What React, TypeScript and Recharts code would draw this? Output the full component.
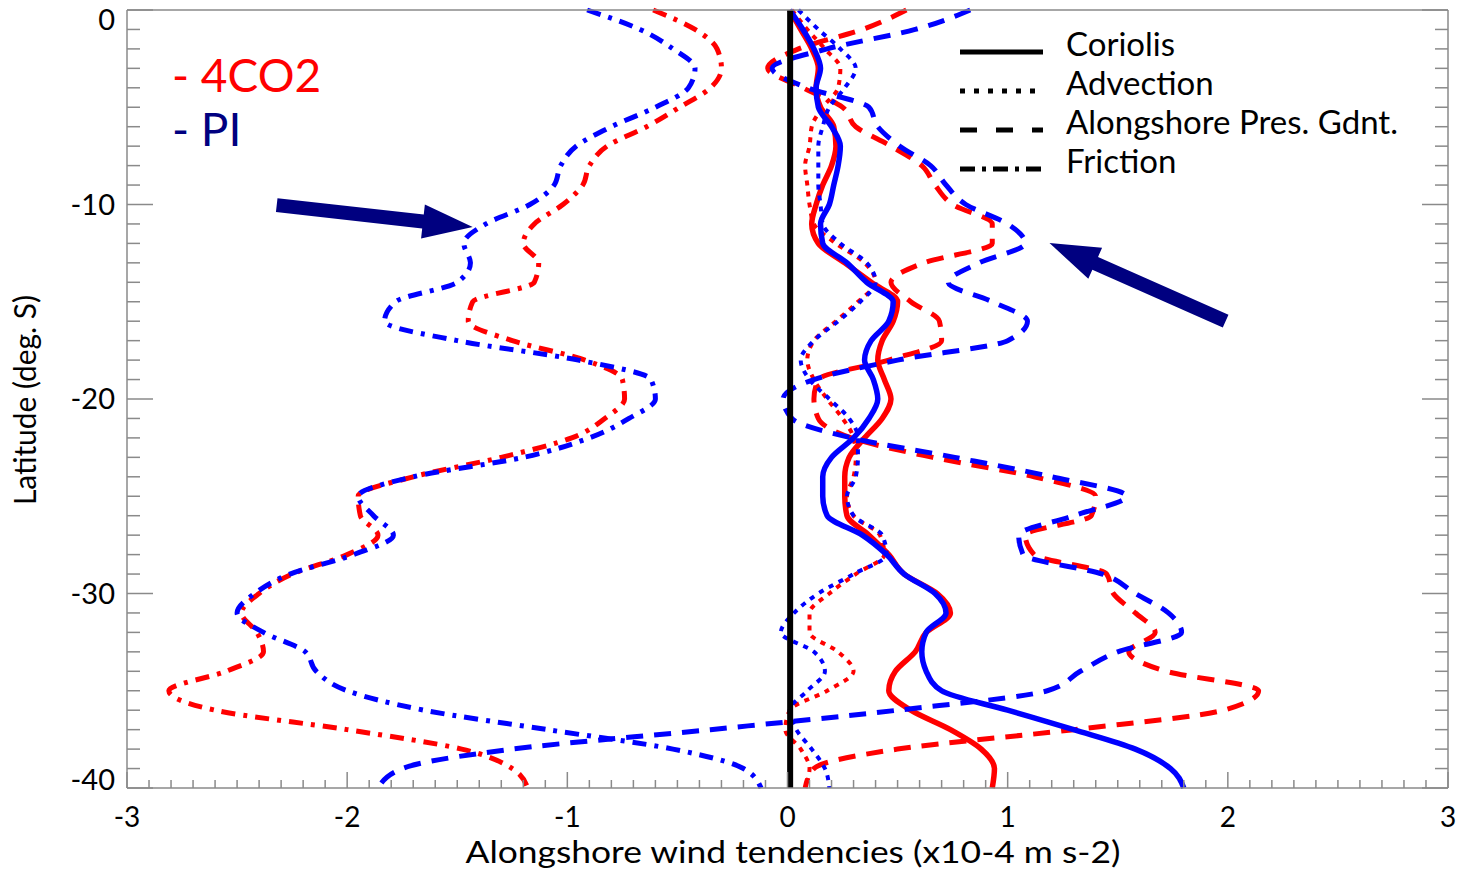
import React from 'react';
import { LineChart, Line, XAxis, YAxis, ReferenceLine } from 'recharts';

// latitude levels (deg), 0 at the top down to 40S
const LAT = [0, -1, -2, -3, -4, -5, -6, -7, -8, -9, -10, -11, -12, -13, -14, -15, -16, -17, -18, -19, -20,
  -21, -22, -23, -24, -25, -26, -27, -28, -29, -30, -31, -32, -33, -34, -35, -36, -37, -38, -39, -40];

// alongshore wind tendencies, x10-4 m s-2
const CORIOLIS_4CO2 = [0.01, 0.06, 0.11, 0.14, 0.13, 0.15, 0.21, 0.22, 0.20, 0.16, 0.13, 0.11, 0.14, 0.26, 0.38, 0.50, 0.48, 0.43, 0.41, 0.44, 0.47,
  0.43, 0.35, 0.28, 0.26, 0.26, 0.27, 0.37, 0.46, 0.53, 0.68, 0.74, 0.63, 0.58, 0.49, 0.46, 0.56, 0.74, 0.88, 0.94, 0.93];
const CORIOLIS_PI = [0.01, 0.07, 0.12, 0.15, 0.13, 0.14, 0.20, 0.24, 0.23, 0.21, 0.19, 0.15, 0.16, 0.27, 0.36, 0.48, 0.46, 0.38, 0.35, 0.39, 0.41,
  0.37, 0.30, 0.20, 0.16, 0.16, 0.18, 0.34, 0.45, 0.53, 0.67, 0.72, 0.63, 0.61, 0.63, 0.70, 1.00, 1.30, 1.58, 1.74, 1.80];
const ADVECTION_4CO2 = [0.02, 0.09, 0.17, 0.24, 0.23, 0.16, 0.11, 0.10, 0.08, 0.09, 0.10, 0.12, 0.22, 0.35, 0.40, 0.32, 0.22, 0.12, 0.09, 0.12, 0.18,
  0.25, 0.30, 0.31, 0.30, 0.27, 0.30, 0.42, 0.44, 0.31, 0.19, 0.10, 0.10, 0.23, 0.30, 0.18, 0.01, -0.01, 0.06, 0.10, 0.08];
const ADVECTION_PI = [0.05, 0.14, 0.24, 0.31, 0.26, 0.19, 0.16, 0.14, 0.14, 0.14, 0.15, 0.16, 0.24, 0.36, 0.40, 0.33, 0.23, 0.12, 0.06, 0.10, 0.19,
  0.28, 0.32, 0.32, 0.31, 0.27, 0.30, 0.43, 0.45, 0.30, 0.14, 0.03, -0.03, 0.12, 0.17, 0.09, 0.01, 0.04, 0.11, 0.17, 0.19];
const PRESSURE_4CO2 = [0.54, 0.34, 0.05, -0.09, 0.07, 0.25, 0.31, 0.47, 0.61, 0.67, 0.75, 0.93, 0.93, 0.62, 0.47, 0.56, 0.69, 0.70, 0.46, 0.14, 0.12,
  0.14, 0.29, 0.66, 1.12, 1.40, 1.38, 1.08, 1.12, 1.45, 1.48, 1.58, 1.67, 1.55, 1.72, 2.14, 1.98, 1.30, 0.50, 0.12, 0.08];
const PRESSURE_PI = [0.83, 0.58, 0.18, -0.07, 0.09, 0.37, 0.41, 0.51, 0.65, 0.72, 0.81, 1.00, 1.08, 0.87, 0.73, 0.93, 1.09, 1.00, 0.50, 0.12, -0.02,
  0.02, 0.29, 0.76, 1.20, 1.54, 1.30, 1.05, 1.07, 1.43, 1.58, 1.73, 1.79, 1.50, 1.33, 1.18, 0.50, -0.35, -1.25, -1.75, -1.86];
const FRICTION_4CO2 = [-0.61, -0.42, -0.32, -0.30, -0.35, -0.49, -0.64, -0.82, -0.90, -0.93, -1.02, -1.15, -1.20, -1.13, -1.15, -1.43, -1.45, -1.25, -0.92, -0.75, -0.74,
  -0.83, -0.98, -1.30, -1.70, -1.95, -1.94, -1.86, -2.00, -2.25, -2.40, -2.48, -2.41, -2.38, -2.55, -2.81, -2.60, -2.00, -1.48, -1.25, -1.18];
const FRICTION_PI = [-0.91, -0.67, -0.52, -0.42, -0.45, -0.60, -0.80, -0.96, -1.03, -1.06, -1.17, -1.37, -1.47, -1.44, -1.50, -1.78, -1.83, -1.50, -0.95, -0.62, -0.60,
  -0.72, -0.90, -1.20, -1.70, -1.95, -1.88, -1.79, -1.97, -2.26, -2.42, -2.50, -2.38, -2.19, -2.14, -2.00, -1.65, -1.09, -0.52, -0.20, -0.12];

const X_TICKS = Array.from({ length: 61 }, (_, i) => (i - 30) / 10);
const Y_TICKS = LAT;

const LEGEND = ['Coriolis', 'Advection', 'Alongshore Pres. Gdnt.', 'Friction'];

const data = LAT.map((lat, i) => ({
  lat,
  cor4: CORIOLIS_4CO2[i],
  corPI: CORIOLIS_PI[i],
  adv4: ADVECTION_4CO2[i],
  advPI: ADVECTION_PI[i],
  prs4: PRESSURE_4CO2[i],
  prsPI: PRESSURE_PI[i],
  fri4: FRICTION_4CO2[i],
  friPI: FRICTION_PI[i],
}));

const RED = '#ff0000';
const BLUE = '#0000ff';
const NAVY = '#000080';
const FRAME = '#8a8a8a';
const FONT = 'Lato, sans-serif';

const DOT = '5 6';
const DASH = '17 11';
const DASHDOT = '14 8 4 8';

const series = [
  { key: 'cor4', color: RED, dash: undefined, width: 5.5 },
  { key: 'adv4', color: RED, dash: DOT, width: 4 },
  { key: 'prs4', color: RED, dash: DASH, width: 5 },
  { key: 'fri4', color: RED, dash: DASHDOT, width: 5 },
  { key: 'corPI', color: BLUE, dash: undefined, width: 5.5 },
  { key: 'advPI', color: BLUE, dash: DOT, width: 4 },
  { key: 'prsPI', color: BLUE, dash: DASH, width: 5 },
  { key: 'friPI', color: BLUE, dash: DASHDOT, width: 5 },
];

const isWhole = (v: number) => Math.abs(v - Math.round(v)) < 1e-6;

function BottomTick({ x, y, payload }: any) {
  const major = isWhole(payload.value);
  return (
    <g>
      <line x1={x} x2={x} y1={y} y2={y - (major ? 16 : 8)} stroke={FRAME} strokeWidth={1.5} />
      {major && (
        <text x={x} y={y + 39} textAnchor="middle" fontSize={28} fontFamily={FONT} fill="#000">
          {Math.round(payload.value)}
        </text>
      )}
    </g>
  );
}

function TopTick({ x, y, payload }: any) {
  const major = isWhole(payload.value);
  return <line x1={x} x2={x} y1={y} y2={y + (major ? 16 : 8)} stroke={FRAME} strokeWidth={1.5} />;
}

function LeftTick({ x, y, payload }: any) {
  const v = payload.value;
  const major = v % 10 === 0;
  const dy = v === 0 ? 10 : v === -40 ? -8 : 0;
  return (
    <g>
      <line x1={x} x2={x + (major ? 26 : 13)} y1={y} y2={y} stroke={FRAME} strokeWidth={1.5} />
      {major && (
        <text x={x - 12} y={y + dy + 10} textAnchor="end" fontSize={29} fontFamily={FONT} fill="#000">
          {v}
        </text>
      )}
    </g>
  );
}

function RightTick({ x, y, payload }: any) {
  const major = payload.value % 10 === 0;
  return <line x1={x} x2={x - (major ? 26 : 13)} y1={y} y2={y} stroke={FRAME} strokeWidth={1.5} />;
}

function Arrow({ x1, y1, x2, y2 }: any) {
  const dx = x2 - x1;
  const dy = y2 - y1;
  const len = Math.hypot(dx, dy) || 1;
  const ux = dx / len;
  const uy = dy / len;
  const nx = -uy;
  const ny = ux;
  const headL = 50;
  const headW = 17;
  const shaftW = 7;
  const bx = x2 - ux * headL;
  const by = y2 - uy * headL;
  const pts = [
    [x1 + nx * shaftW, y1 + ny * shaftW],
    [bx + nx * shaftW, by + ny * shaftW],
    [bx + nx * headW, by + ny * headW],
    [x2, y2],
    [bx - nx * headW, by - ny * headW],
    [bx - nx * shaftW, by - ny * shaftW],
    [x1 - nx * shaftW, y1 - ny * shaftW],
  ];
  return <polygon points={pts.map((p) => p.join(',')).join(' ')} fill={NAVY} />;
}

const LEGEND_DASH = [undefined, '5 9', '17 19', '15 7 4 7'];

export default function App() {
  return (
    <div style={{ position: 'absolute', left: 0, top: 0, width: 1462, height: 874, background: '#fff' }}>
      <LineChart
        width={1462}
        height={874}
        data={data}
        layout="vertical"
        margin={{ top: 9, right: 13, bottom: 85, left: 126 }}
      >
        <XAxis
          type="number"
          domain={[-3, 3]}
          ticks={X_TICKS}
          interval={0}
          height={1}
          tickSize={0}
          tickMargin={0}
          tickLine={false}
          axisLine={{ stroke: FRAME, strokeWidth: 1.5 }}
          tick={BottomTick}
        />
        <XAxis
          xAxisId="top"
          orientation="top"
          type="number"
          domain={[-3, 3]}
          ticks={X_TICKS}
          interval={0}
          height={1}
          tickSize={0}
          tickMargin={0}
          tickLine={false}
          axisLine={{ stroke: FRAME, strokeWidth: 1.5 }}
          tick={TopTick}
        />
        <YAxis
          type="number"
          dataKey="lat"
          domain={[-40, 0]}
          reversed
          ticks={Y_TICKS}
          interval={0}
          width={1}
          tickSize={0}
          tickMargin={0}
          tickLine={false}
          axisLine={{ stroke: FRAME, strokeWidth: 1.5 }}
          tick={LeftTick}
        />
        <YAxis
          yAxisId="right"
          orientation="right"
          type="number"
          dataKey="lat"
          domain={[-40, 0]}
          reversed
          ticks={Y_TICKS}
          interval={0}
          width={1}
          tickSize={0}
          tickMargin={0}
          tickLine={false}
          axisLine={{ stroke: FRAME, strokeWidth: 1.5 }}
          tick={RightTick}
        />
        {series.map((s) => (
          <Line
            key={s.key}
            dataKey={s.key}
            type="monotoneY"
            stroke={s.color}
            strokeWidth={s.width}
            strokeDasharray={s.dash}
            dot={false}
            activeDot={false}
            isAnimationActive={false}
          />
        ))}
        <ReferenceLine x={0.012} stroke="#000" strokeWidth={6} />
        <ReferenceLine segment={[{ x: -2.32, y: -10.03 }, { x: -1.43, y: -11.16 }]} shape={Arrow} />
        <ReferenceLine segment={[{ x: 1.99, y: -16.0 }, { x: 1.19, y: -11.98 }]} shape={Arrow} />
      </LineChart>
      <svg width={1462} height={874} style={{ position: 'absolute', left: 0, top: 0, pointerEvents: 'none' }}>
        <text x={172} y={92} fontSize={46} fontFamily={FONT} fill={RED}>- 4CO2</text>
        <text x={172} y={146} fontSize={46} fontFamily={FONT} fill={NAVY}>- PI</text>
        {LEGEND.map((label, i) => (
          <g key={label}>
            <line x1={960} x2={1043} y1={52 + i * 39} y2={52 + i * 39} stroke="#000" strokeWidth={5} strokeDasharray={LEGEND_DASH[i]} />
            <text x={1066} y={56 + i * 39} fontSize={33} fontFamily={FONT} fill="#000">{label}</text>
          </g>
        ))}
        <text x={793} y={863} textAnchor="middle" fontSize={30} fontFamily={FONT} fill="#000" textLength={655} lengthAdjust="spacingAndGlyphs">
          Alongshore wind tendencies (x10-4 m s-2)
        </text>
        <text x={0} y={0} transform="translate(36,400) rotate(-90)" textAnchor="middle" fontSize={31} fontFamily={FONT} fill="#000" textLength={210} lengthAdjust="spacingAndGlyphs">
          Latitude (deg. S)
        </text>
      </svg>
    </div>
  );
}
